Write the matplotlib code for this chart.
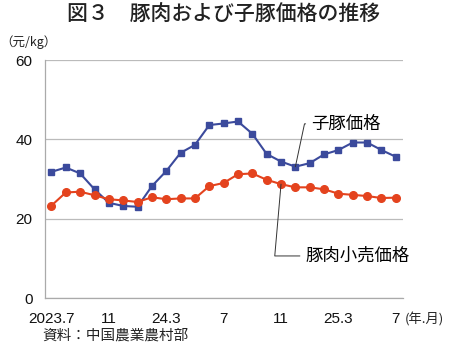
import matplotlib
matplotlib.use("Agg")
import matplotlib.pyplot as plt

plt.rcParams['font.family'] = ['Liberation Sans', 'Noto Sans CJK JP', 'DejaVu Sans']

# monthly, 2023.7 - 2025.7
piglet = [31.8, 32.9, 31.4, 27.4, 24.0, 23.2, 23.0, 28.2, 32.0, 36.6, 38.6, 43.6, 44.0,
          44.5, 41.4, 36.3, 34.4, 33.1, 34.0, 36.2, 37.3, 39.2, 39.2, 37.3, 35.6]
pork_retail = [23.3, 26.6, 26.8, 25.9, 24.9, 24.6, 24.2, 25.4, 24.9, 25.1, 25.1, 28.2, 29.0,
               31.2, 31.4, 29.8, 28.7, 27.9, 27.9, 27.4, 26.3, 26.0, 25.7, 25.2, 25.3]
tick_pos = [0, 4, 8, 12, 16, 20, 24]
tick_labels = ["2023.7", "11", "24.3", "7", "11", "25.3", "7"]

blue = "#3b4a9c"
red = "#e4431e"
jp = ['Noto Sans CJK JP', 'DejaVu Sans']

fig = plt.figure(figsize=(4.5, 3.53), dpi=100)
ax = fig.add_axes([45/450, 1 - 298/353, (403 - 45)/450, (298 - 60)/353])

x = list(range(len(piglet)))
ax.plot(x, piglet, color=blue, marker="s", markersize=5, linewidth=1.5)
ax.plot(x, pork_retail, color=red, marker="o", markersize=5.5, linewidth=1.5)

ax.set_ylim(0, 60)
ax.set_xlim(-0.45, 24.5)
ax.set_yticks([0, 20, 40, 60])
ax.yaxis.grid(True, color="#bbbbbb", linewidth=0.9)
ax.set_axisbelow(True)
ax.set_xticks(tick_pos)
ax.set_xticklabels(tick_labels)
ax.tick_params(length=0, labelsize=11, colors="#111111")
ax.tick_params(axis="y", pad=9)
ax.tick_params(axis="x", pad=10)
for s in ["top", "right"]:
    ax.spines[s].set_visible(False)
for s in ["left", "bottom"]:
    ax.spines[s].set_color("#aaaaaa")
    ax.spines[s].set_linewidth(0.9)

# leader lines and labels
ax.annotate("子豚価格", xy=(17, piglet[17]), xytext=(18.1, 43.9),
            fontsize=12.5, va="center", ha="left", family=jp,
            arrowprops=dict(arrowstyle="-", color="#333333", linewidth=0.7,
                            connectionstyle="angle,angleA=0,angleB=78,rad=0",
                            shrinkA=2, shrinkB=0))
ax.annotate("豚肉小売価格", xy=(16, pork_retail[16]), xytext=(17.7, 10.6),
            fontsize=12.5, va="center", ha="left", family=jp,
            arrowprops=dict(arrowstyle="-", color="#333333", linewidth=0.7,
                            connectionstyle="angle,angleA=0,angleB=85,rad=0",
                            shrinkA=2, shrinkB=0))

fig.text(224/450, 1 - 14/353, "図３　豚肉および子豚価格の推移", ha="center", va="center",
         fontsize=15, fontweight="medium", color="#222222", family=jp)
fig.text(0/450, 1 - 42/353, "（元/kg）", ha="left", va="center", fontsize=9, color="#222222", family=jp)
fig.text(405/450, 1 - 319/353, "(年.月)", ha="left", va="center", fontsize=9.5, color="#222222", family=jp)
fig.text(42/450, 1 - 336/353, "資料：中国農業農村部", ha="left", va="center", fontsize=10.5,
         color="#222222", family=jp)

fig.savefig("out.png", dpi=100)
